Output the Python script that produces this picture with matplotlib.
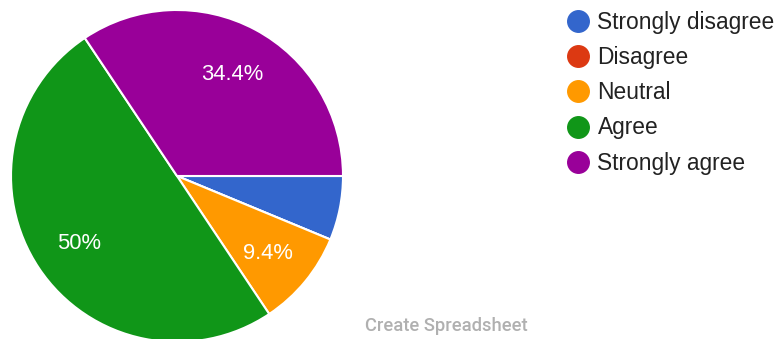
import matplotlib.pyplot as plt
from matplotlib.lines import Line2D
from matplotlib.transforms import ScaledTranslation

# Survey responses
labels = ["Strongly disagree", "Disagree", "Neutral", "Agree", "Strongly agree"]
counts = [2, 0, 3, 16, 11]
colors = ["#3366cc", "#dc3912", "#ff9900", "#109618", "#990099"]

plt.rcParams["font.family"] = ["Liberation Sans", "DejaVu Sans"]

fig = plt.figure(figsize=(7.76, 3.39), dpi=100)
ax = fig.add_axes([11 / 776, -3 / 339, 332 / 776, 332 / 339])


def pct_label(p):
    # small slices get no label
    if p < 8:
        return ""
    return f"{p:.1f}".rstrip("0").rstrip(".") + "%"


wedges, _, autotexts = ax.pie(
    counts, colors=colors, startangle=0, counterclock=False,
    autopct=pct_label, pctdistance=0.71, radius=1,
    wedgeprops=dict(edgecolor="white", linewidth=1.5),
    textprops=dict(color="white", fontsize=15.8),
)
# nudge the percentage labels down a little
for t in autotexts:
    t.set_transform(t.get_transform() + ScaledTranslation(0, -2.5 / 100, fig.dpi_scale_trans))

ax.set_xlim(-1, 1)
ax.set_ylim(-1, 1)
ax.set_aspect("equal")
ax.axis("off")

handles = [Line2D([], [], marker="o", linestyle="none", markersize=15.5,
                  markerfacecolor=c, markeredgecolor=c) for c in colors]
fig.legend(handles, labels, loc="upper left", bbox_to_anchor=(564 / 776, 1 - 9 / 339),
           frameon=False, fontsize=16.4, labelcolor="#222222",
           handlelength=1.0, handletextpad=0.37, labelspacing=0.53,
           borderaxespad=0, borderpad=0.1)

fig.text(446 / 776, 1 - 326 / 339, "Create Spreadsheet", family="Roboto",
         fontweight="medium", fontsize=13.2, color="#b0b0b0",
         ha="center", va="center")

fig.savefig("out.png", dpi=100)
